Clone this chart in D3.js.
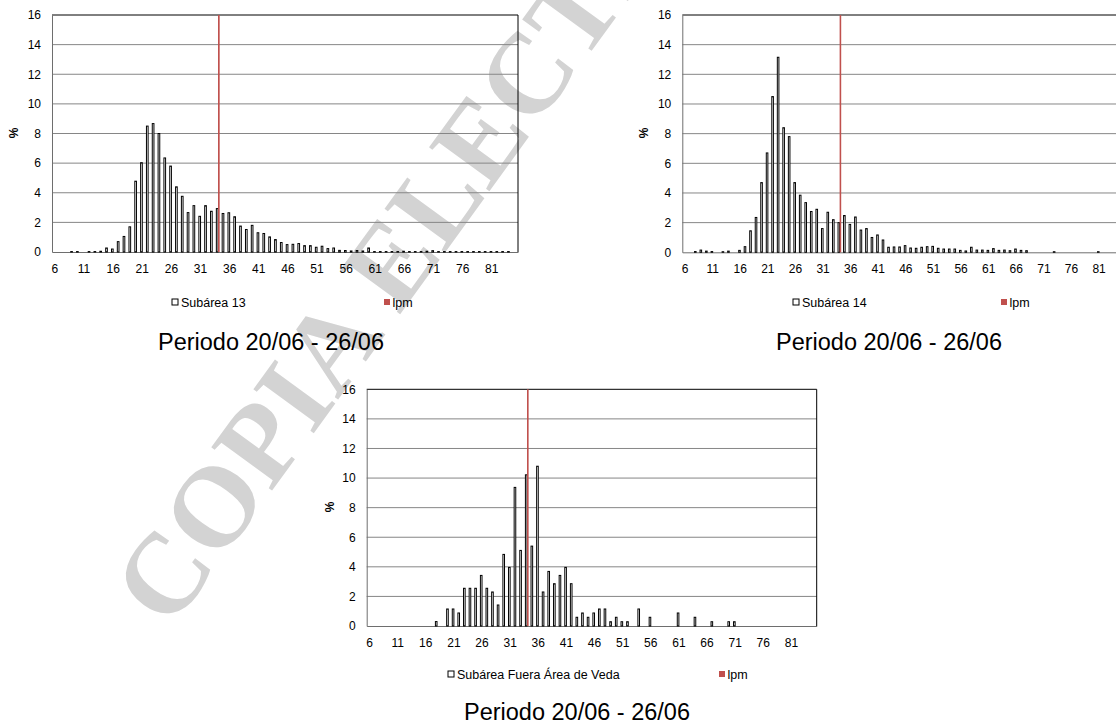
<!DOCTYPE html>
<html lang="es">
<head>
    <meta charset="UTF-8">
    <title>Distribución de tallas - Periodo 20/06 - 26/06</title>
    <style>
        body { margin: 0; background: #fff; }
        svg text { font-family: "Liberation Sans", Arial, sans-serif; }
    </style>
</head>
<body>
<script src="https://d3js.org/d3.v7.min.js"></script>
<script>
    // length classes (cm)
    const classes80 = [6, 7, 8, 9, 10, 11, 12, 13, 14, 15, 16, 17, 18, 19, 20, 21, 22, 23, 24, 25,
        26, 27, 28, 29, 30, 31, 32, 33, 34, 35, 36, 37, 38, 39, 40, 41, 42, 43, 44, 45,
        46, 47, 48, 49, 50, 51, 52, 53, 54, 55, 56, 57, 58, 59, 60, 61, 62, 63, 64, 65,
        66, 67, 68, 69, 70, 71, 72, 73, 74, 75, 76, 77, 78, 79, 80, 81, 82, 83, 84, 85];
    const classes84 = classes80.concat([86, 87, 88, 89]);
    const tickLabels = [6, 11, 16, 21, 26, 31, 36, 41, 46, 51, 56, 61, 66, 71, 76, 81];
    const yTicks = [0, 2, 4, 6, 8, 10, 12, 14, 16];

    // % per length class
    const subarea13 = [
        null, null, null, 0.03, 0.03,
        null, 0.03, 0.03, 0.05, 0.27,
        0.2, 0.7, 1.05, 1.7, 4.78,
        6.03, 8.5, 8.67, 8.0, 6.35,
        5.8, 4.4, 3.76, 2.66, 3.13,
        2.41, 3.13, 2.75, 2.93, 2.6,
        2.65, 2.38, 1.75, 1.52, 1.8,
        1.3, 1.25, 1.02, 0.84, 0.64,
        0.5, 0.52, 0.57, 0.43, 0.43,
        0.32, 0.39, 0.23, 0.27, 0.11,
        0.1, 0.07, 0.1, 0.07, 0.27,
        0.03, 0.03, 0.03, 0.03, 0.03,
        0.05, 0.03, 0.03, 0.03, 0.05,
        0.09, 0.03, 0.03, 0.03, 0.03,
        0.03, 0.03, 0.03, 0.03, 0.03,
        0.03, 0.03, 0.03, 0.03, null];
    const subarea14 = [
        null, null, 0.05, 0.15, 0.08,
        0.05, null, 0.04, 0.08, null,
        0.13, 0.38, 1.45, 2.35, 4.7,
        6.7, 10.5, 13.15, 8.4, 7.8,
        4.7, 3.85, 3.35, 2.75, 2.9,
        1.6, 2.7, 2.2, 2.0, 2.48,
        1.88, 2.38, 1.5, 1.6, 1.0,
        1.17, 0.83, 0.34, 0.36, 0.36,
        0.45, 0.29, 0.27, 0.34, 0.38,
        0.4, 0.27, 0.22, 0.22, 0.22,
        0.13, 0.09, 0.34, 0.15, 0.15,
        0.13, 0.25, 0.13, 0.15, 0.11,
        0.22, 0.13, 0.11, null, null,
        null, null, 0.04, null, null,
        null, null, null, null, null,
        0.04, null, null, null, null,
        null, null, null, null];
    const fueraVeda = [
        null, null, null, null, null,
        null, null, null, null, null,
        null, null, 0.3, null, 1.15,
        1.15, 0.88, 2.55, 2.55, 2.55,
        3.42, 2.55, 2.3, 1.42, 4.84,
        3.96, 9.37, 5.11, 10.22, 5.4,
        10.8, 2.3, 3.69, 2.86, 3.42,
        3.96, 2.86, 0.59, 0.88, 0.59,
        0.88, 1.15, 1.15, 0.29, 0.59,
        0.29, 0.29, null, 1.15, null,
        0.59, null, null, null, null,
        0.88, null, null, 0.59, null,
        null, 0.29, null, null, 0.29,
        0.29, null, null, null, null,
        null, null, null, null, null,
        null, null, null, null, null];

    // lpm series: one bar at its class
    const lpmClass = [34];
    const lpmValue = [16];

    const red = "#C0504D";

    const svg = d3.select("body")
        .append("svg")
        .attr("width", 1116)
        .attr("height", 725);

    // watermark, behind the charts
    svg.append("text")
        .attr("transform", "translate(170,631) rotate(-54)")
        .style("font-family", "'Liberation Serif', 'Times New Roman', serif")
        .style("font-weight", "bold")
        .style("font-size", "114px")
        .attr("fill", "#d3d3d3")
        .text("COPIA ELECTRÓNICA");

    function drawChart(opt) {
        const g = svg.append("g");

        const x = d3.scaleBand()
            .domain(opt.classes)
            .range([opt.left, opt.right]);

        // two series per class, Excel style gap
        const x1 = d3.scaleBand()
            .domain(["sub", "lpm"])
            .range([0, x.bandwidth()])
            .paddingInner(0)
            .paddingOuter(0.75);

        const y = d3.scaleLinear()
            .domain([0, 16])
            .range([opt.bottom, opt.top]);

        // gridlines
        g.selectAll("line.grid")
            .data(yTicks.slice(1, -1))
            .enter()
            .append("line")
            .attr("x1", opt.left)
            .attr("x2", opt.right)
            .attr("y1", d => y(d))
            .attr("y2", d => y(d))
            .attr("stroke", "#868686")
            .attr("stroke-width", 1);

        // plot border
        g.append("line")
            .attr("x1", opt.left).attr("x2", opt.right)
            .attr("y1", y(16)).attr("y2", y(16))
            .attr("stroke", "#000");
        g.append("line")
            .attr("x1", opt.right).attr("x2", opt.right)
            .attr("y1", y(16)).attr("y2", y(0))
            .attr("stroke", "#000");

        const yAxis = g.append("g")
            .attr("transform", "translate(" + opt.left + ",0)")
            .call(d3.axisLeft(y).tickValues(yTicks).tickSize(0).tickPadding(11));
        yAxis.select(".domain").attr("stroke", "#6e6e6e");
        yAxis.selectAll("text").style("font-size", "12px").attr("fill", "#000");

        const xAxis = g.append("g")
            .attr("transform", "translate(0," + opt.bottom + ")")
            .call(d3.axisBottom(x).tickValues(tickLabels).tickSize(0).tickPadding(12));
        xAxis.select(".domain").attr("stroke", "#6e6e6e");
        xAxis.selectAll("text").style("font-size", "12px").attr("fill", "#000");

        // % label
        g.append("text")
            .attr("transform", "translate(" + opt.pctX + "," + opt.pctY + ") rotate(-90)")
            .attr("text-anchor", "middle")
            .attr("dy", "0.35em")
            .style("font-size", "12px")
            .style("font-weight", "bold")
            .text("%");

        const rows = opt.classes.map(function (c, i) {
            return {c: c, v: opt.values[i]};
        }).filter(d => d.v !== null);

        g.selectAll("rect.bar")
            .data(rows)
            .enter()
            .append("rect")
            .attr("x", d => x(d.c) + x1("sub"))
            .attr("width", x1.bandwidth())
            .attr("y", d => y(d.v))
            .attr("height", d => y(0) - y(d.v))
            .attr("fill", "#fff")
            .attr("stroke", "#000")
            .attr("stroke-width", 1);

        g.selectAll("rect.lpm")
            .data(lpmClass)
            .enter()
            .append("rect")
            .attr("x", d => x(d) + x1("lpm"))
            .attr("width", x1.bandwidth())
            .attr("y", (d, i) => y(lpmValue[i]))
            .attr("height", (d, i) => y(0) - y(lpmValue[i]))
            .attr("fill", red);

        // legend
        g.append("rect")
            .attr("x", opt.legX1).attr("y", opt.legY - 3)
            .attr("width", 6).attr("height", 6)
            .attr("fill", "#fff").attr("stroke", "#000");
        g.append("text")
            .attr("x", opt.legX1 + 9).attr("y", opt.legY + 4.5)
            .style("font-size", "12.5px")
            .text(opt.name);
        g.append("rect")
            .attr("x", opt.legX2).attr("y", opt.legY - 3)
            .attr("width", 6).attr("height", 6)
            .attr("fill", red);
        g.append("text")
            .attr("x", opt.legX2 + 8.5).attr("y", opt.legY + 4.5)
            .style("font-size", "12.5px")
            .text("lpm");

        // title
        g.append("text")
            .attr("x", opt.titleX).attr("y", opt.titleY)
            .attr("text-anchor", "middle")
            .style("font-size", "23.5px")
            .text("Periodo 20/06 - 26/06");
    }

    drawChart({
        classes: classes80, values: subarea13, name: "Subárea 13",
        left: 52, right: 518, top: 15, bottom: 252,
        pctX: 14, pctY: 133,
        legX1: 172, legX2: 384, legY: 302,
        titleX: 271, titleY: 349.5
    });

    drawChart({
        classes: classes84, values: subarea14, name: "Subárea 14",
        left: 682.3, right: 1146, top: 15, bottom: 252.3,
        pctX: 644, pctY: 133,
        legX1: 793, legX2: 1001, legY: 302,
        titleX: 889, titleY: 349.5
    });

    drawChart({
        classes: classes80, values: fueraVeda, name: "Subárea Fuera Área de Veda",
        left: 366.7, right: 816.7, top: 389.3, bottom: 626,
        pctX: 330, pctY: 507,
        legX1: 448, legX2: 719, legY: 674,
        titleX: 577, titleY: 719.5
    });
</script>
</body>
</html>
